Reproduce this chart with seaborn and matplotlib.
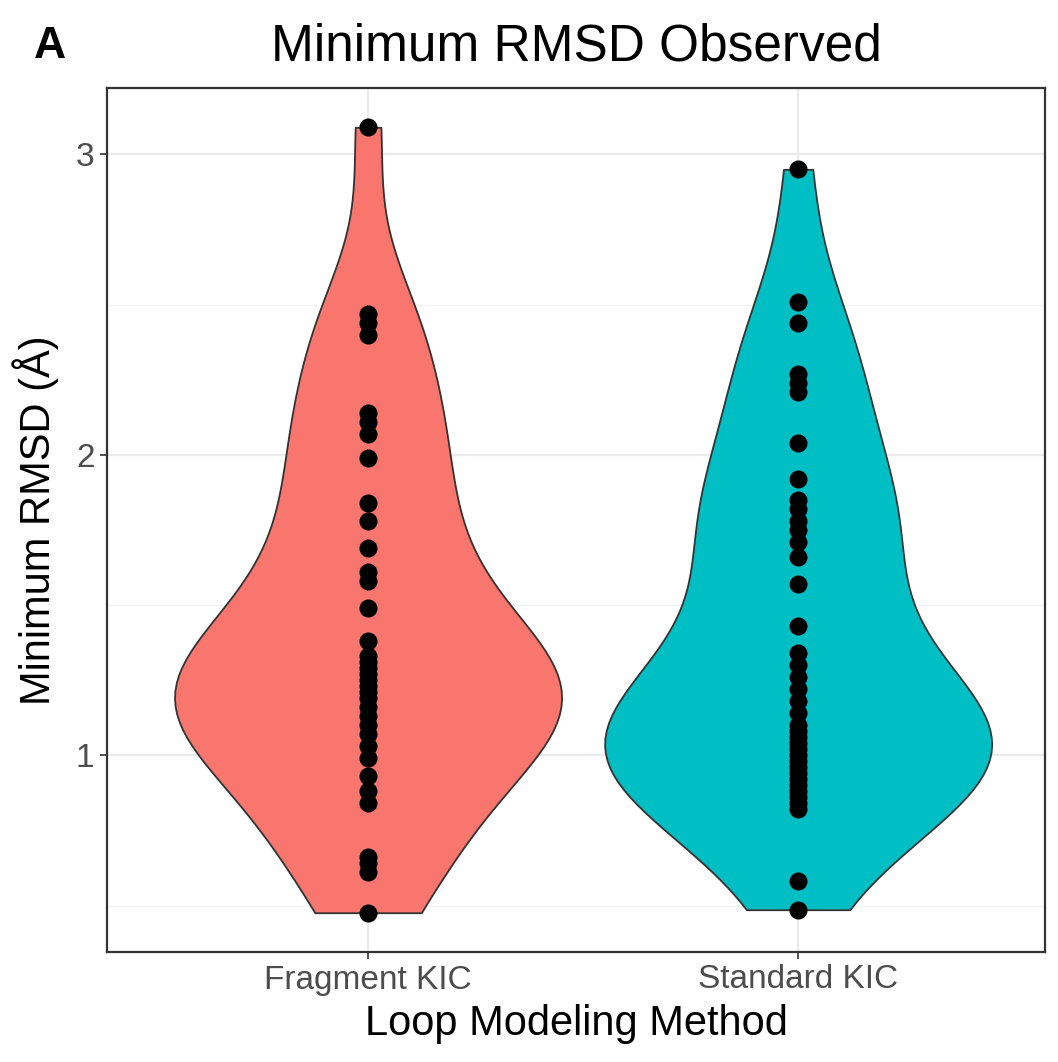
import numpy as np
import pandas as pd
import matplotlib
matplotlib.use("Agg")
import matplotlib.pyplot as plt
import seaborn as sns
from matplotlib.ticker import FixedLocator

# Minimum RMSD (Å) per benchmark loop, for each loop modeling method
methods = ["Fragment KIC", "Standard KIC"]
fragment_kic = [3.09, 2.47, 2.44, 2.40, 2.14, 2.11, 2.07, 1.99, 1.84, 1.78,
                1.69, 1.61, 1.58, 1.49, 1.38, 1.33, 1.31, 1.29, 1.27, 1.25,
                1.23, 1.21, 1.19, 1.16, 1.13, 1.10, 1.07, 1.03, 0.99, 0.93,
                0.88, 0.84, 0.66, 0.64, 0.61, 0.476]
standard_kic = [2.95, 2.51, 2.44, 2.27, 2.24, 2.21, 2.04, 1.92, 1.85, 1.82,
                1.78, 1.75, 1.71, 1.66, 1.57, 1.43, 1.34, 1.30, 1.26, 1.22,
                1.18, 1.14, 1.10, 1.08, 1.06, 1.04, 1.02, 1.00, 0.98, 0.96,
                0.94, 0.92, 0.90, 0.88, 0.86, 0.84, 0.82, 0.58, 0.486]
palette = ["#F8766D", "#00BFC4"]

df = pd.DataFrame({
    "method": [methods[0]] * len(fragment_kic) + [methods[1]] * len(standard_kic),
    "rmsd": fragment_kic + standard_kic,
})


def nrd0(kde):
    """Silverman's rule of thumb as used by R (bw.nrd0), as a gaussian_kde factor."""
    x = np.asarray(kde.dataset).ravel()
    sd = np.std(x, ddof=1)
    q75, q25 = np.percentile(x, [75, 25])
    lo = min(sd, (q75 - q25) / 1.34)
    bw = 0.9 * lo * len(x) ** -0.2
    return bw / sd


plt.rcParams["font.family"] = ["Liberation Sans", "DejaVu Sans"]

fig = plt.figure(figsize=(10.58, 10.62), dpi=100)
ax = fig.add_axes([107 / 1058, 1 - 952 / 1062, (1045 - 107) / 1058, (952 - 88) / 1062])
ax.set_facecolor("white")

sns.violinplot(data=df, x="method", y="rmsd", hue="method", order=methods,
               hue_order=methods, palette=palette, legend=False,
               density_norm="area", width=0.9, cut=0, inner=None,
               bw_method=nrd0, linewidth=1.3, linecolor="#333333",
               saturation=1, ax=ax, zorder=2)
sns.stripplot(data=df, x="method", y="rmsd", order=methods, jitter=False,
              color="black", size=13, linewidth=0, ax=ax, zorder=3)

vals = np.array(df["rmsd"])
lo, hi = vals.min(), vals.max()
pad = 0.05 * (hi - lo)
ax.set_ylim(lo - pad, hi + pad)
ax.set_xlim(-0.607, 1.574)

ax.yaxis.set_major_locator(FixedLocator([1, 2, 3]))
ax.yaxis.set_minor_locator(FixedLocator([0.5, 1.5, 2.5]))
ax.set_yticklabels(["1", "2", "3"])

ax.grid(True, which="major", color="#EBEBEB", linewidth=1.6, zorder=0)
ax.grid(True, which="minor", axis="y", color="#F2F2F2", linewidth=0.9, zorder=0)
ax.set_axisbelow(True)

for s in ax.spines.values():
    s.set_color("#333333")
    s.set_linewidth(1.6)

ax.tick_params(axis="both", which="major", length=5, width=1.2, color="#333333",
               labelsize=24, labelcolor="#4D4D4D", pad=4)
ax.tick_params(axis="y", which="minor", length=0)

ax.set_xlabel("Loop Modeling Method", fontsize=30, labelpad=6, color="black")
ax.set_ylabel("Minimum RMSD (Å)", fontsize=30, labelpad=12, color="black")
ax.set_title("Minimum RMSD Observed", fontsize=37, pad=20, color="black")

fig.text(50 / 1058, 1 - 46 / 1062, "A", fontsize=32, fontweight="bold",
         ha="center", va="center")

fig.savefig("out.png", dpi=100, facecolor="white")
